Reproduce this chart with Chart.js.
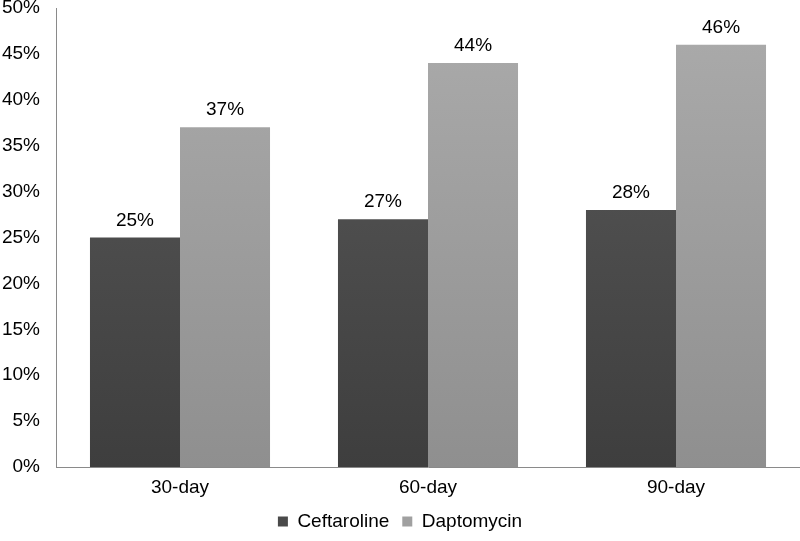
<!DOCTYPE html>
<html>
<head>
<meta charset="utf-8">
<script src="https://cdn.jsdelivr.net/npm/chart.js@4"></script>
<style>
html, body { margin: 0; padding: 0; background: #fff; }
#wrap { width: 800px; height: 541px; }
</style>
</head>
<body>
<div id="wrap"><canvas id="chart"></canvas></div>
<script>
// data
const categories = ["30-day", "60-day", "90-day"];
const ceftaroline = [25, 27, 28];
const daptomycin = [37, 44, 46];
const yTicks = [0, 5, 10, 15, 20, 25, 30, 35, 40, 45, 50];

const FONT = "'Liberation Sans', Arial, Helvetica, sans-serif";
const FS = 19;

function vGrad(ctx, chartArea, top, bottom) {
  if (!chartArea) return top;
  const g = ctx.createLinearGradient(0, chartArea.top, 0, chartArea.bottom);
  g.addColorStop(0, top);
  g.addColorStop(1, bottom);
  return g;
}

// value labels above each bar
const barLabels = {
  id: "barLabels",
  afterDatasetsDraw(chart) {
    const ctx = chart.ctx;
    ctx.save();
    ctx.font = FS + "px " + FONT;
    ctx.fillStyle = "#000";
    ctx.textAlign = "center";
    ctx.textBaseline = "alphabetic";
    chart.data.datasets.forEach((ds, i) => {
      chart.getDatasetMeta(i).data.forEach((bar, j) => {
        ctx.fillText(ds.data[j] + "%", bar.x, bar.y - 12);
      });
    });
    ctx.restore();
  }
};

new Chart(document.getElementById("chart"), {
  type: "bar",
  data: {
    labels: categories,
    datasets: [
      {
        label: "Ceftaroline",
        data: ceftaroline,
        backgroundColor: (c) => vGrad(c.chart.ctx, c.chart.chartArea, "#5a5a5a", "#3e3e3e"),
        borderWidth: 0
      },
      {
        label: "Daptomycin",
        data: daptomycin,
        backgroundColor: (c) => vGrad(c.chart.ctx, c.chart.chartArea, "#ababab", "#8f8f8f"),
        borderWidth: 0
      }
    ]
  },
  options: {
    responsive: true,
    maintainAspectRatio: false,
    animation: false,
    layout: { padding: { top: 8, right: 0, bottom: 0, left: 0 } },
    datasets: { bar: { categoryPercentage: 0.726, barPercentage: 1.0 } },
    scales: {
      x: {
        afterFit(scale) { scale.height = 32; },
        grid: { display: false, drawTicks: false },
        border: { color: "#8a8a8a", width: 1 },
        ticks: { color: "#000", font: { family: FONT, size: FS }, padding: 9 }
      },
      y: {
        min: 0,
        max: 50,
        afterFit(scale) {
          scale.width = 56;
          scale.paddingTop = 0;
          scale.paddingBottom = 0;
        },
        afterBuildTicks(scale) { scale.ticks = yTicks.map(v => ({ value: v })); },
        grid: { display: false, drawTicks: false },
        border: { color: "#8a8a8a", width: 1 },
        ticks: {
          color: "#000",
          font: { family: FONT, size: FS },
          padding: 16,
          callback: (v) => v + "%"
        }
      }
    },
    plugins: {
      legend: {
        position: "bottom",
        labels: {
          color: "#000",
          font: { family: FONT, size: FS },
          boxWidth: 10,
          boxHeight: 10,
          padding: 13,
          generateLabels(chart) {
            const fills = ["#4a4a4a", "#a0a0a0"];
            return chart.data.datasets.map((ds, i) => ({
              text: ds.label,
              fillStyle: fills[i],
              strokeStyle: fills[i],
              lineWidth: 0,
              fontColor: "#000",
              datasetIndex: i
            }));
          }
        }
      },
      tooltip: { enabled: false }
    }
  },
  plugins: [barLabels]
});
</script>
</body>
</html>
